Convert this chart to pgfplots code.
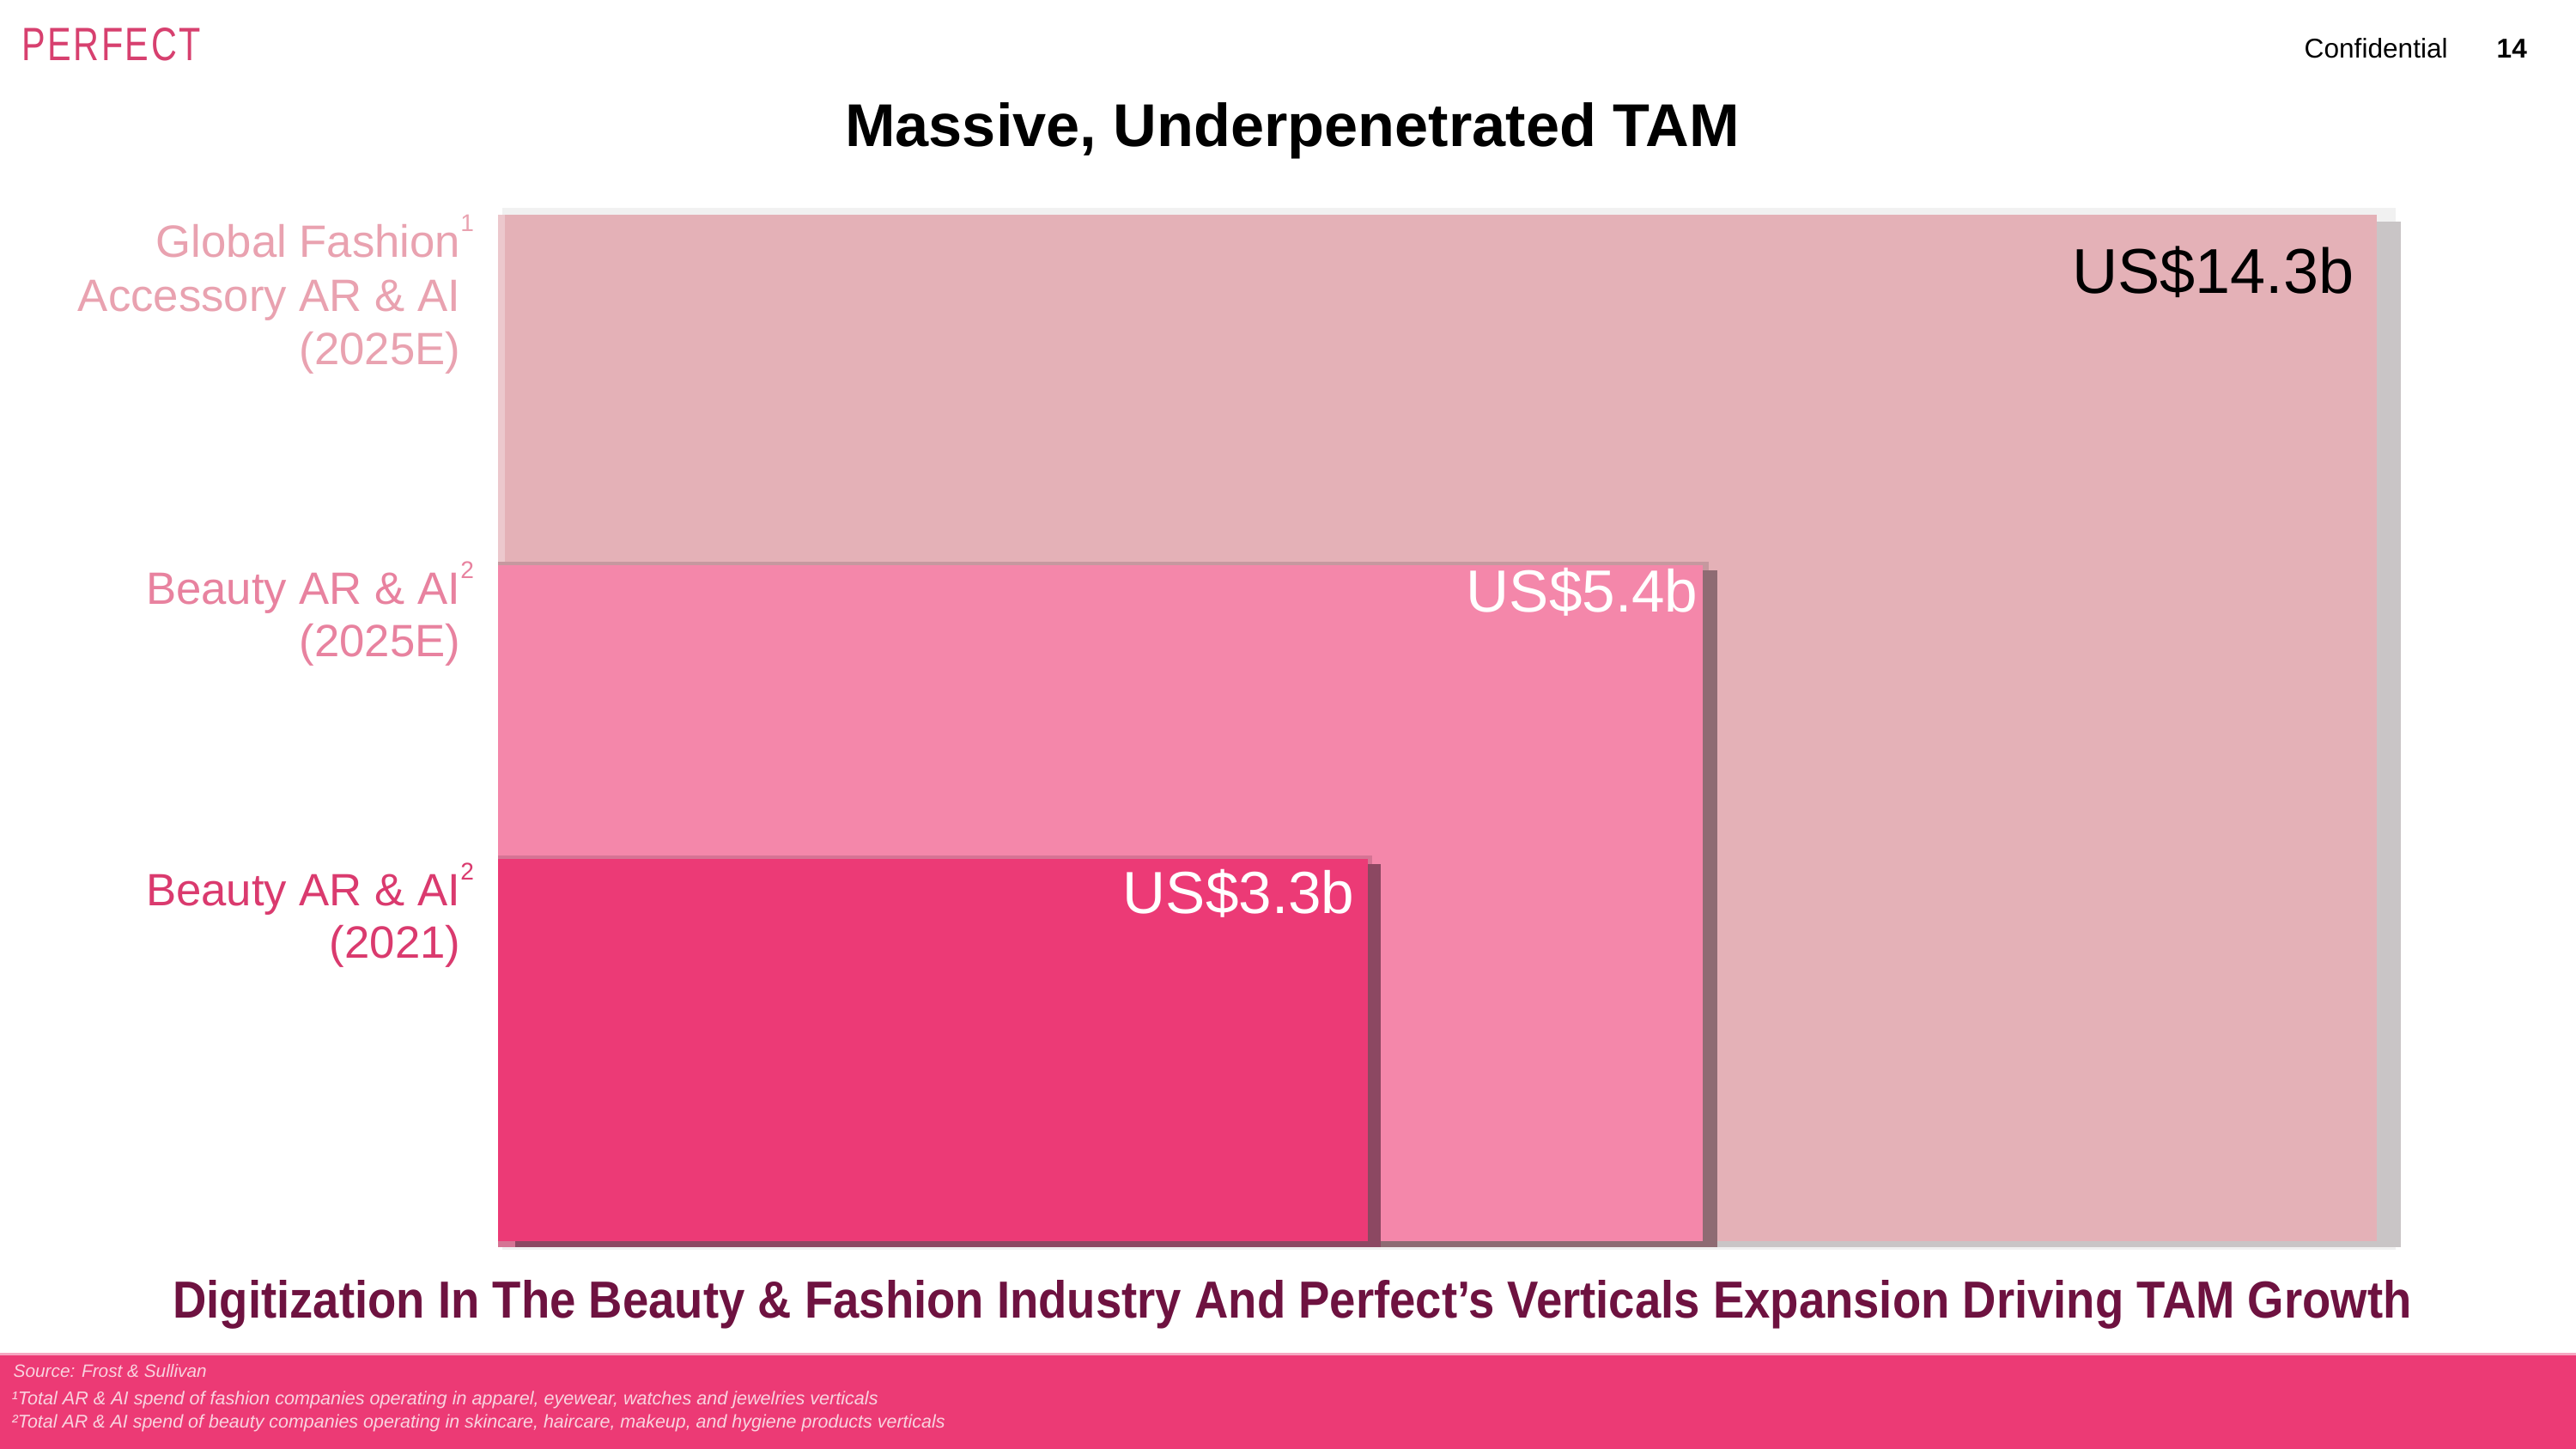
\documentclass[border=0pt]{standalone}
\usepackage{fontspec}
\setmainfont{Liberation Sans}
\usepackage{graphicx}
\usepackage{pgfplots}
\pgfplotsset{compat=1.18}

\definecolor{tamBig}{HTML}{E4B1B7}
\definecolor{tamMid}{HTML}{F487AA}
\definecolor{tamSmall}{HTML}{EC3A76}
\definecolor{shBig}{HTML}{C9C5C6}
\definecolor{shMid}{HTML}{8E6B73}
\definecolor{shSmall}{HTML}{8C4862}
\definecolor{labA}{HTML}{E9A2B0}
\definecolor{labB}{HTML}{E8829F}
\definecolor{labC}{HTML}{DA3A6E}
\definecolor{subt}{HTML}{6E1240}
\definecolor{band}{HTML}{EC3A75}
\definecolor{footTxt}{HTML}{F9D3DF}
\definecolor{logo}{HTML}{D7406F}

\newcommand{\fnmark}[1]{\rlap{\raisebox{3.0mm}{\fontsize{8}{8}\selectfont #1}}}

\begin{document}
\begin{tikzpicture}
\begin{axis}[
    width=30cm, height=16.87cm, scale only axis,
    xmin=0, xmax=3000, ymin=0, ymax=1687,
    y dir=reverse, hide axis, clip=false]

% page background and footer band
\fill[white] (rel axis cs:0,0) rectangle (rel axis cs:1,1);
\fill[band] (axis cs:0,1577) rectangle (axis cs:3000,1687);
\fill[band!45!white] (axis cs:0,1575) rectangle (axis cs:3000,1578);

% shadows
\addplot[fill=black!10, draw=none, opacity=0.5] coordinates {(585,242) (2790,242) (2790,1455) (585,1455)};
\addplot[fill=shBig, draw=none] coordinates {(600,258) (2796,258) (2796,1452) (600,1452)};
% Global fashion accessory AR & AI (2025E): US$14.3b
\addplot[fill=tamBig, draw=none] coordinates {(580,250) (2768,250) (2768,1445) (580,1445)};
\fill[tamBig!70!white] (axis cs:580,250) rectangle (axis cs:588,1445);

\addplot[fill=shMid!35!tamBig, draw=none] coordinates {(580,654) (1990,654) (1990,1452) (580,1452)};
\addplot[fill=shMid, draw=none] coordinates {(600,664) (2000,664) (2000,1452) (600,1452)};
% Beauty AR & AI (2025E): US$5.4b
\addplot[fill=tamMid, draw=none] coordinates {(580,658) (1983,658) (1983,1445) (580,1445)};

\addplot[fill=shSmall!30!tamMid, draw=none] coordinates {(580,996) (1598,996) (1598,1452) (580,1452)};
\addplot[fill=shSmall, draw=none] coordinates {(600,1006) (1608,1006) (1608,1452) (600,1452)};
% Beauty AR & AI (2021): US$3.3b
\addplot[fill=tamSmall, draw=none] coordinates {(580,1000) (1593,1000) (1593,1445) (580,1445)};

% value labels
\node[anchor=base east, inner sep=0, font=\fontsize{21}{25}\selectfont] at (axis cs:2742,342) {US\$14.3b};
\node[anchor=base east, inner sep=0, text=white, font=\fontsize{19.7}{23}\selectfont] at (axis cs:1978,713) {US\$5.4b};
\node[anchor=base east, inner sep=0, text=white, font=\fontsize{19.7}{23}\selectfont] at (axis cs:1578,1063) {US\$3.3b};

% category labels
\begin{scope}[every node/.style={anchor=base east, inner sep=0, font=\fontsize{15}{18}\selectfont}]
\node[text=labA] at (axis cs:537,300) {Global Fashion\fnmark{1}};
\node[text=labA] at (axis cs:537,363) {Accessory AR \& AI};
\node[text=labA] at (axis cs:537,425) {(2025E)};
\node[text=labB] at (axis cs:537,704) {Beauty AR \& AI\fnmark{2}};
\node[text=labB] at (axis cs:537,765) {(2025E)};
\node[text=labC] at (axis cs:537,1054) {Beauty AR \& AI\fnmark{2}};
\node[text=labC] at (axis cs:537,1115) {(2021)};
\end{scope}

% header
\node[anchor=base west, inner sep=0, text=logo] at (axis cs:25,71) {\resizebox{20.8mm}{3.8mm}{P\kern0.06em E\kern0.06em R\kern0.06em F\kern0.06em E\kern0.06em C\kern0.06em T}};
\node[anchor=base west, inner sep=0, font=\fontsize{9}{11}\selectfont] at (axis cs:2683,68) {Confidential};
\node[anchor=base west, inner sep=0, font=\fontsize{9}{11}\selectfont\bfseries] at (axis cs:2907,68) {14};
\node[anchor=base, inner sep=0, font=\fontsize{20}{24}\selectfont\bfseries] at (axis cs:1505,171) {Massive, Underpenetrated TAM};

% subtitle
\node[anchor=base, inner sep=0, text=subt] at (axis cs:1505,1534) {\resizebox{260.7mm}{4.4mm}{\bfseries Digitization In The Beauty \& Fashion Industry And Perfect's Verticals Expansion Driving TAM Growth}};

% footnotes
\begin{scope}[every node/.style={anchor=base west, inner sep=0, text=footTxt}]
\node at (axis cs:15,1603) {\resizebox{22.5mm}{!}{\itshape Source: Frost \& Sullivan}};
\node at (axis cs:13,1635) {\resizebox{100.9mm}{!}{\itshape ¹Total AR \& AI spend of fashion companies operating in apparel, eyewear, watches and jewelries verticals}};
\node at (axis cs:13,1662) {\resizebox{108.7mm}{!}{\itshape ²Total AR \& AI spend of beauty companies operating in skincare, haircare, makeup, and hygiene products verticals}};
\end{scope}
\end{axis}
\end{tikzpicture}
\end{document}
